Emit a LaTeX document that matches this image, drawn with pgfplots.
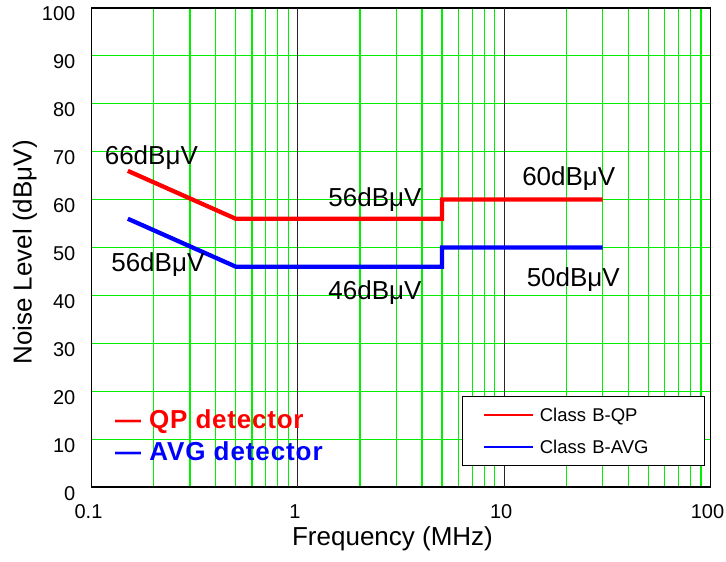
\documentclass[border=0pt]{standalone}
\usepackage{fontspec}
\setmainfont{Liberation Sans}
\usepackage{pgfplots}
\pgfplotsset{compat=1.18}
\definecolor{gridgreen}{RGB}{0,240,0}
\begin{document}
\begin{tikzpicture}
\begin{axis}[
    xmode=log,
    xmin=0.1, xmax=100,
    ymin=0, ymax=100,
    width=619pt, height=479pt,
    scale only axis,
    xtick={0.1,0.2,0.3,0.4,0.5,0.6,0.7,0.8,0.9,1,2,3,4,5,6,7,8,9,10,20,30,40,50,60,70,80,90,100},
    xticklabels={0.1,{},{},{},{},{},{},{},{},1,{},{},{},{},{},{},{},{},10,{},{},{},{},{},{},{},{},100},
    extra x ticks={1,10},
    extra x tick labels={},
    extra x tick style={major grid style={black!85, line width=1pt}},
    ytick={0,10,...,100},
    /pgf/number format/assume math mode=true,
    grid=major,
    major grid style={gridgreen, line width=1.2pt},
    major tick length=0pt, minor tick length=0pt,
    axis line style={line width=1.2pt},
    tick label style={font=\fontsize{20}{24}\selectfont},
    xticklabel style={anchor=base, inner sep=0pt, yshift=-31.5pt, xshift=-3pt},
    yticklabel style={anchor=base east, inner sep=0pt, xshift=-16pt, yshift=-13pt},
    xlabel={Frequency (MHz)},
    ylabel={Noise Level (dBμV)},
    label style={font=\fontsize{26}{30}\selectfont},
    xlabel style={at={(rel axis cs:0.4863,-0.1211)}, anchor=base, inner sep=0pt},
    ylabel style={at={(rel axis cs:-0.1074,0.4896)}, anchor=center, inner sep=0pt},
    legend style={at={(0.598,0.0438)}, anchor=south west, draw=black, line width=0.8pt,
        fill=white, inner xsep=21pt, inner ysep=11.7pt, row sep=19.5pt, column sep=6pt,
        nodes={inner sep=0pt, text height=13.2pt, text depth=0pt},
        font=\fontsize{18.5}{22}\selectfont, cells={anchor=west}},
    legend image code/.code={\draw[#1, line width=1.8pt] (0pt,0pt) -- (49pt,0pt);},
]
\addplot[red, line width=4.3pt] coordinates {(0.15,66) (0.5,56) (5,56) (5,60) (30,60)};
\addlegendentry[text width=144pt]{Class B-QP}
\addplot[blue, line width=4.3pt] coordinates {(0.15,56) (0.5,46) (5,46) (5,50) (30,50)};
\addlegendentry[text width=144pt]{Class B-AVG}

\node[anchor=base, inner sep=0pt, font=\fontsize{26}{30}\selectfont] at (axis cs:0.195,67.37) {66dBμV};
\node[anchor=base, inner sep=0pt, font=\fontsize{26}{30}\selectfont] at (axis cs:0.2097,44.95) {56dBμV};
\node[anchor=base, inner sep=0pt, font=\fontsize{26}{30}\selectfont] at (axis cs:2.366,58.52) {56dBμV};
\node[anchor=base, inner sep=0pt, font=\fontsize{26}{30}\selectfont] at (axis cs:2.366,39.04) {46dBμV};
\node[anchor=base, inner sep=0pt, font=\fontsize{26}{30}\selectfont] at (axis cs:20.57,62.84) {60dBμV};
\node[anchor=base, inner sep=0pt, font=\fontsize{26}{30}\selectfont] at (axis cs:21.63,41.96) {50dBμV};

\node[anchor=base west, inner sep=0pt, text=red, font=\fontsize{26}{30}\selectfont\bfseries\addfontfeature{LetterSpace=3}] at (rel axis cs:0.038,0.1225) {--- QP detector};
\node[anchor=base west, inner sep=0pt, text=blue, font=\fontsize{26}{30}\selectfont\bfseries\addfontfeature{LetterSpace=3.5}] at (rel axis cs:0.038,0.0557) {--- AVG detector};

\coordinate (sw) at (rel axis cs:0,0);
\coordinate (ne) at (rel axis cs:1,1);
\end{axis}
\pgfresetboundingbox
\path[use as bounding box] ([xshift=-91.5pt,yshift=-74pt]sw) rectangle ([xshift=15.5pt,yshift=8pt]ne);
\end{tikzpicture}
\end{document}
